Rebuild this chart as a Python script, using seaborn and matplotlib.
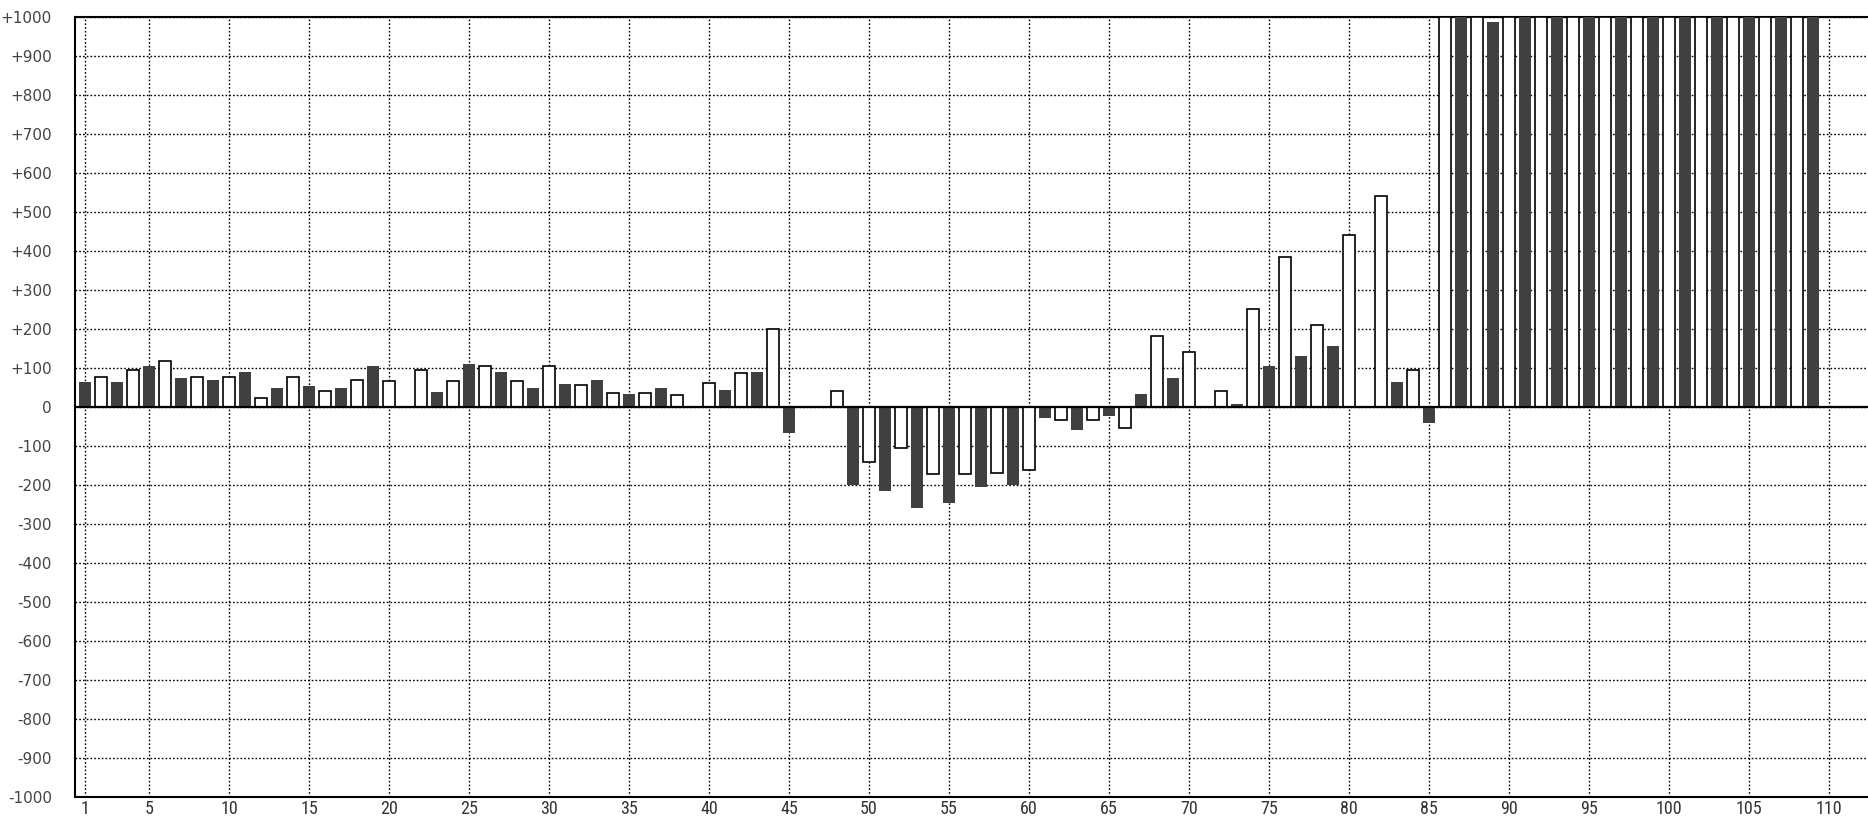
import matplotlib
matplotlib.use("Agg")
import matplotlib.pyplot as plt
from matplotlib import font_manager
import seaborn as sns
import pandas as pd

# ---- data ----
dark_pos = list(range(1, 110, 2))
dark_vals = [64, 64, 105, 74, 69, 90, 48, 54, 48, 105,
             0, 38, 111, 90, 48, 59, 69, 33, 48, 0,
             43, 90, -66, 0, -200, -216, -258, -246, -205, -200,
             -28, -60, -24, 33, 74, 0, 7, 105, 132, 157,
             0, 65, -40, 1000, 986, 1000, 1000, 1000, 1000, 1000,
             1000, 1000, 1000, 1000, 1000]
white_pos = list(range(2, 109, 2))
white_vals = [78, 94, 119, 78, 78, 22, 78, 42, 68, 67,
              94, 67, 104, 67, 104, 57, 36, 36, 31, 62,
              88, 200, 0, 41, -142, -105, -173, -172, -168, -162,
              -33, -33, -53, 181, 140, 42, 252, 385, 211, 442,
              540, 94, 1000, 1000, 1000, 1000, 1000, 1000, 1000, 1000,
              1000, 1000, 1000, 1000]
x_ticks = [1] + list(range(5, 111, 5))
x_tick_labels = [str(t) for t in x_ticks]
y_ticks = list(range(-1000, 1001, 100))
y_tick_labels = ["0" if v == 0 else f"{v:+d}" for v in y_ticks]

dark_df = pd.DataFrame({"pos": dark_pos, "val": dark_vals})
white_df = pd.DataFrame({"pos": white_pos, "val": white_vals})

sns.set_style("white")

def pick_font(cands):
    names = {f.name for f in font_manager.fontManager.ttflist}
    for c in cands:
        if c in names:
            return c
    return "DejaVu Sans"

xfont = pick_font(["Liberation Sans Narrow", "Roboto Condensed", "DejaVu Sans"])

W, H = 1868, 818
fig = plt.figure(figsize=(W / 100, H / 100), dpi=100)
left, top, bottom = 75, 17, 797
ax = fig.add_axes([left / W, (H - bottom) / H, 1 - left / W, (bottom - top) / H])

sns.barplot(data=dark_df, x="pos", y="val", native_scale=True, orient="x",
            width=0.375, color="#404040", saturation=1, errorbar=None,
            linewidth=0, ax=ax, zorder=3)
sns.barplot(data=white_df, x="pos", y="val", native_scale=True, orient="x",
            width=0.375, color="white", saturation=1, errorbar=None,
            edgecolor="black", linewidth=1.2, ax=ax, zorder=3)

ax.set_xlim(0.375, 112.45)
ax.set_ylim(-1000, 1000)
ax.set_xticks(x_ticks)
ax.set_xticklabels(x_tick_labels, family=[xfont, "DejaVu Sans"], fontsize=13, color="#333333")
ax.set_yticks(y_ticks)
ax.set_yticklabels(y_tick_labels, fontsize=11, color="#444444")
ax.tick_params(axis="y", length=0, pad=16.5)
ax.tick_params(axis="x", length=0, pad=2.5)
ax.set_xlabel("")
ax.set_ylabel("")

ax.grid(True, color="black", linewidth=1.0, linestyle=(0, (1.2, 1.5)), zorder=1)
ax.set_axisbelow(True)
ax.axhline(0, color="black", linewidth=1.6, zorder=5)

for s in ["left", "top", "bottom"]:
    ax.spines[s].set_visible(True)
    ax.spines[s].set_color("black")
    ax.spines[s].set_linewidth(1.5)
ax.spines["right"].set_visible(False)

fig.savefig("out.png", dpi=100)
